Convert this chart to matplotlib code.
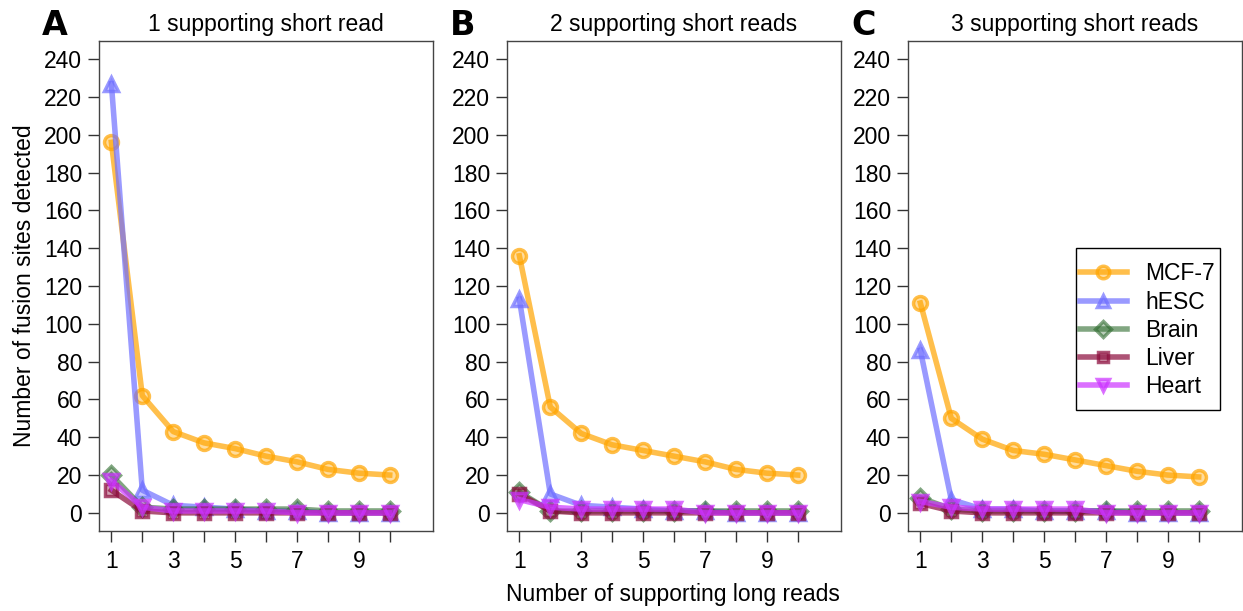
import matplotlib
matplotlib.use("Agg")
import matplotlib.pyplot as plt
from matplotlib.colors import to_rgba
from matplotlib.patches import Rectangle

plt.rcParams['font.family'] = ['Liberation Sans', 'DejaVu Sans']

long_reads = list(range(1, 11))
series_names = ["MCF-7", "hESC", "Brain", "Liver", "Heart"]
panel_titles = ["1 supporting short read", "2 supporting short reads", "3 supporting short reads"]
panel_letters = ["A", "B", "C"]

mcf7_a = [196, 62, 43, 37, 34, 30, 27, 23, 21, 20]
hesc_a = [227, 12, 4, 3, 2, 1, 1, 0, 0, 0]
brain_a = [20, 3, 2, 2, 2, 2, 2, 1, 1, 1]
liver_a = [12, 1, 0, 0, 0, 0, 0, 0, 0, 0]
heart_a = [17, 3, 1, 1, 1, 1, 0, 0, 0, 0]

mcf7_b = [136, 56, 42, 36, 33, 30, 27, 23, 21, 20]
hesc_b = [113, 10, 4, 3, 2, 1, 1, 0, 0, 0]
brain_b = [11, 1, 1, 1, 1, 1, 1, 1, 1, 1]
liver_b = [10, 1, 0, 0, 0, 0, 0, 0, 0, 0]
heart_b = [7, 3, 2, 2, 2, 2, 0, 0, 0, 0]

mcf7_c = [111, 50, 39, 33, 31, 28, 25, 22, 20, 19]
hesc_c = [86, 7, 2, 2, 1, 1, 1, 0, 0, 0]
brain_c = [8, 2, 1, 1, 1, 1, 1, 1, 1, 1]
liver_c = [5, 1, 0, 0, 0, 0, 0, 0, 0, 0]
heart_c = [6, 3, 2, 2, 2, 2, 0, 0, 0, 0]

panels = [
    [mcf7_a, hesc_a, brain_a, liver_a, heart_a],
    [mcf7_b, hesc_b, brain_b, liver_b, heart_b],
    [mcf7_c, hesc_c, brain_c, liver_c, heart_c],
]

colors = ["#FFA500", "#6F6FFF", "#2E6B2E", "#8B0A3A", "#CC33FF"]
alphas = [0.7, 0.7, 0.6, 0.7, 0.7]
markers = ["o", "^", "D", "s", "v"]
msizes = [10, 10, 9, 8.5, 10]

W, H = 1243, 611
fig = plt.figure(figsize=(W / 100, H / 100), dpi=100)

lefts = [99, 507, 908]
width_px = 334
top_px, bottom_px = 41, 531
FS = 16.5

axes = []
for i in range(3):
    ax = fig.add_axes([lefts[i] / W, (H - bottom_px) / H, width_px / W, (bottom_px - top_px) / H])
    axes.append(ax)
    for j, vals in enumerate(panels[i]):
        lc = to_rgba(colors[j], alphas[j])
        fc = to_rgba(colors[j], alphas[j] * 0.55)
        ax.plot(long_reads, vals, color=lc, lw=4, marker=markers[j], ms=msizes[j],
                mfc=fc, mec=lc, mew=2.5, label=series_names[j], solid_joinstyle='round')
    ax.set_xlim(0.6, 11.4)
    ax.set_ylim(-9.6, 249.6)
    ax.set_yticks(range(0, 241, 20))
    ax.set_xticks(long_reads)
    ax.set_xticklabels([str(v) if v % 2 == 1 else "" for v in long_reads])
    ax.tick_params(axis='both', direction='out', length=8, width=1, colors='#333333',
                   labelsize=FS, labelcolor='black', pad=4)
    ax.tick_params(axis='x', pad=6)
    for s in ax.spines.values():
        s.set_color('#444444')
        s.set_linewidth(1.0)
    ax.set_title(panel_titles[i], fontsize=FS, pad=7)
    ax.text(-0.171, 1.012, panel_letters[i], transform=ax.transAxes, fontsize=24,
            fontweight='bold', family='DejaVu Sans', va='baseline', ha='left')

axes[0].set_ylabel("Number of fusion sites detected", fontsize=FS, labelpad=6)
fig.text(673 / W, 1 - 594 / H, "Number of supporting long reads", fontsize=FS, ha='center', va='center')

axc = axes[2]
axc.add_patch(Rectangle((0.503, 0.247), 0.431, 0.331, transform=axc.transAxes,
                        facecolor='white', edgecolor='black', lw=1.0, zorder=4))
leg = axc.legend(loc='upper left', bbox_to_anchor=(0.515, 0.548), fontsize=FS,
                 frameon=False, handlelength=2.05, borderpad=0.0, borderaxespad=0.0,
                 labelspacing=0.22, handletextpad=0.8, markerscale=0.9)
leg.set_zorder(5)

fig.savefig("out.png", dpi=100)
